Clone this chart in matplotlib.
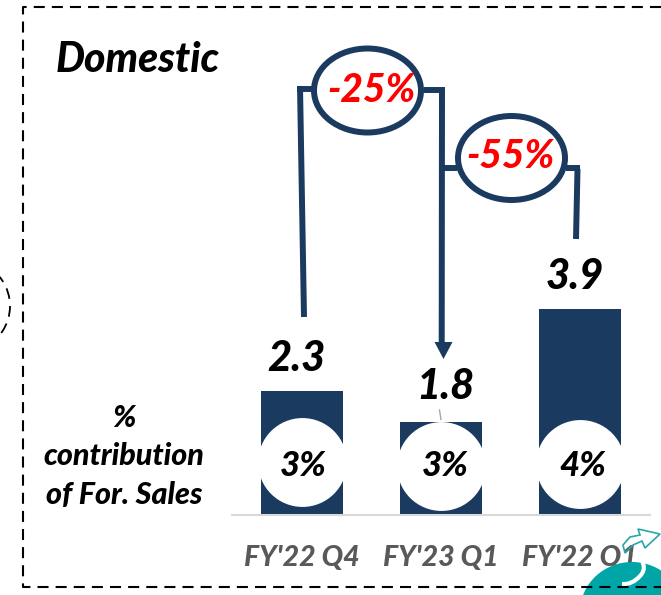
import matplotlib
matplotlib.use("Agg")
import matplotlib.pyplot as plt
from matplotlib.patches import Arc, Ellipse, Polygon, PathPatch
from matplotlib.path import Path

plt.rcParams['font.family'] = ['Lato', 'DejaVu Sans']

quarters = ["FY'22 Q4", "FY'23 Q1", "FY'22 Q1"]
sales = [2.34, 1.75, 3.9]
sales_labels = ["2.3", "1.8", "3.9"]
contribution = ["3%", "3%", "4%"]
changes = ["-25%", "-55%"]

navy = "#1a3a60"
W, H = 661, 595
fig = plt.figure(figsize=(W / 100, H / 100), dpi=100)

# bar axes, sits on the baseline
base_px = 514.5
ax = fig.add_axes([232 / W, (H - base_px) / H, (650 - 232) / W, base_px / H])
ax.set_xlim(-0.504, 2.504)
ax.set_ylim(0, base_px / 52.6)
ax.patch.set_alpha(0)
x = range(len(sales))
ax.bar(x, sales, width=0.59, color=navy, zorder=1)

# white circles inside the bars
ax.scatter(x, [0.99, 0.93, 0.96], s=64 ** 2, color="white", linewidths=0, zorder=2)
pct_dx = [0.01, 0.03, 0.02]
for i in x:
    ax.text(i + pct_dx[i], 0.93, contribution[i], ha="center", va="center", fontsize=25,
            fontweight=900, fontstyle="italic", color="black", zorder=3)

# value labels, nudged like the original
label_dx = [-0.04, 0.03, -0.04]
label_dy = [0.61, 0.68, 0.61]
for i in x:
    ax.text(i + label_dx[i], sales[i] + label_dy[i], sales_labels[i], ha="center", va="center",
            fontsize=30, fontweight=900, fontstyle="italic", color="black")

ax.set_xticks(list(x))
ax.set_xticklabels(quarters, fontsize=20.5, fontweight=900, fontstyle="italic", color="#595959")
ax.tick_params(axis="x", length=0, pad=22)
ax.set_yticks([])
for s in ["top", "left", "right"]:
    ax.spines[s].set_visible(False)
ax.spines["bottom"].set_color("#d9d9d9")
ax.spines["bottom"].set_linewidth(1.5)

# overlay in pixel coordinates for frame, connectors, callouts
ov = fig.add_axes([0, 0, 1, 1])
ov.set_xlim(0, W)
ov.set_ylim(H, 0)
ov.axis("off")
ov.patch.set_alpha(0)

# logo bottom right
ov.add_patch(Ellipse((632, 612), 104, 100, color="#00a5a8", lw=0, zorder=1))
swoosh = Path([(634, 551), (650, 566), (640, 576), (632, 585), (622, 584)],
              [Path.MOVETO, Path.CURVE3, Path.CURVE3, Path.CURVE3, Path.CURVE3])
ov.add_patch(PathPatch(swoosh, fill=False, edgecolor="white", lw=3, zorder=2))
arrow_x = [660, 638, 640, 630, 623, 625, 633, 642, 645]
arrow_y = [534, 529, 535, 537, 545, 553, 545, 541, 548]
ov.add_patch(Polygon(list(zip(arrow_x, arrow_y)), closed=True, fill=False,
                     edgecolor="#2aa5ab", lw=1.2, zorder=2))

# dashed frame
dash = (0, (5.3, 3.4))
ov.plot([661, 23, 23, 661], [7, 7, 587, 587], color="black", lw=1.5, ls=dash, zorder=3)
ov.add_patch(Arc((-34, 306), 88, 90, theta1=-70, theta2=70, color="black", lw=1.3, ls=(0, (6, 4)), zorder=3))

# connectors
lw = 4.3
ov.plot([297, 314], [88.5, 88.5], color=navy, lw=lw, solid_capstyle="butt")
ov.plot([300, 304], [86, 317], color=navy, lw=lw, solid_capstyle="butt")
ov.plot([424, 445], [90, 90], color=navy, lw=lw, solid_capstyle="butt")
ov.plot([442, 441.7], [88, 343], color=navy, lw=lw, solid_capstyle="butt")
ov.plot([443, 457], [167.5, 167.5], color=navy, lw=lw, solid_capstyle="butt")
ov.plot([566, 580], [167.5, 167.5], color=navy, lw=lw, solid_capstyle="butt")
ov.plot([577.5, 576], [169, 239], color=navy, lw=lw, solid_capstyle="butt")
ov.add_patch(Polygon([(434.5, 342), (452.5, 342), (443.5, 359)], closed=True, color=navy, lw=0))
ov.plot([439.5, 441], [410, 419.5], color="#a6a6a6", lw=1)

# callouts
for (cx, cy), (tx, ty), txt in zip([(367.5, 90.5), (511.5, 158)], [(371, 90), (510, 157)], changes):
    ov.add_patch(Ellipse((cx, cy), 107, 84, facecolor="white", edgecolor=navy, lw=lw, zorder=4))
    ov.text(tx, ty, txt, ha="center", va="center", color="#ff0000", fontsize=28,
            fontweight=900, fontstyle="italic", zorder=5)

ov.text(56, 60, "Domestic", ha="left", va="center", fontsize=29.5, fontweight=900,
        fontstyle="italic", color="black")
for y, line in zip([418, 456, 495], ["%", "contribution", "of For. Sales"]):
    ov.text(124, y, line, ha="center", va="center", fontsize=22, fontweight=900,
            fontstyle="italic", color="black")

fig.savefig("out.png", dpi=100)
